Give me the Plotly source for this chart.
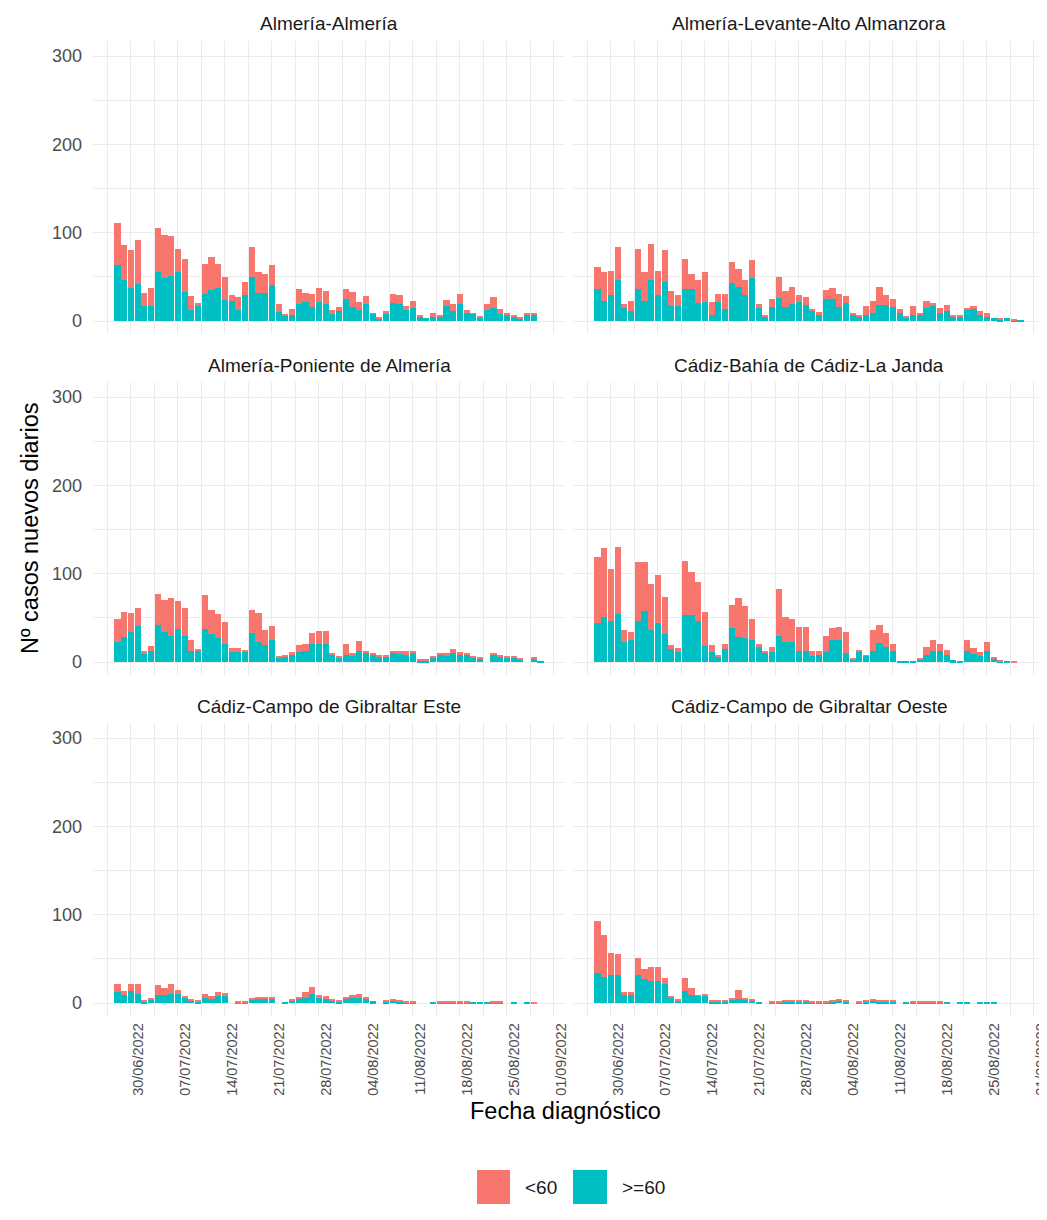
import pandas as pd
import plotly.graph_objects as go

# ---------------- data ----------------
dates = pd.date_range("2022-06-28", "2022-08-30", freq="D")

regions = [
    "Almería-Almería",
    "Almería-Levante-Alto Almanzora",
    "Almería-Poniente de Almería",
    "Cádiz-Bahía de Cádiz-La Janda",
    "Cádiz-Campo de Gibraltar Este",
    "Cádiz-Campo de Gibraltar Oeste",
]

almeria_ge60 = [63, 47, 38, 42, 17, 17, 56, 49,
                51, 55, 33, 12, 17, 31, 35, 37,
                24, 23, 13, 29, 50, 32, 32, 41,
                10, 6, 7, 19, 22, 16, 22, 19,
                8, 11, 25, 16, 13, 19, 8, 3,
                9, 21, 19, 12, 15, 5, 3, 5,
                5, 17, 11, 19, 9, 8, 4, 13,
                15, 8, 7, 5, 3, 7, 7, 0]
almeria_lt60 = [48, 39, 42, 50, 15, 21, 49, 49,
                45, 27, 37, 16, 3, 34, 37, 28,
                26, 7, 14, 15, 34, 23, 21, 23,
                9, 2, 7, 17, 10, 15, 16, 15,
                4, 5, 11, 17, 9, 9, 1, 1,
                2, 10, 10, 5, 8, 2, 0, 4,
                2, 7, 8, 12, 3, 1, 1, 6,
                12, 6, 2, 2, 2, 2, 2, 0]

levante_ge60 = [36, 23, 30, 47, 15, 11, 36, 23,
                47, 30, 44, 17, 17, 36, 36, 20,
                22, 7, 22, 14, 43, 39, 29, 49,
                15, 5, 16, 26, 16, 19, 22, 18,
                11, 7, 25, 25, 16, 20, 7, 5,
                7, 9, 18, 18, 16, 9, 4, 7,
                7, 15, 17, 9, 11, 5, 5, 13,
                14, 7, 5, 3, 2, 3, 1, 1]
levante_lt60 = [25, 33, 27, 37, 4, 12, 46, 32,
                40, 27, 37, 17, 12, 34, 17, 27,
                33, 15, 9, 17, 24, 20, 17, 20,
                4, 2, 9, 24, 18, 20, 7, 9,
                3, 3, 10, 13, 15, 8, 2, 2,
                10, 14, 21, 12, 9, 5, 1, 10,
                2, 8, 4, 6, 7, 2, 2, 1,
                3, 4, 4, 0, 1, 0, 1, 0]

poniente_ge60 = [23, 28, 34, 41, 9, 13, 42, 34,
                 30, 37, 30, 13, 13, 38, 32, 27,
                 21, 11, 11, 11, 33, 23, 19, 25,
                 5, 6, 8, 11, 13, 21, 21, 21,
                 8, 5, 8, 7, 13, 10, 8, 6,
                 6, 10, 10, 8, 11, 2, 2, 5,
                 8, 7, 10, 8, 8, 5, 4, 0,
                 8, 6, 5, 5, 3, 0, 4, 1]
poniente_lt60 = [26, 29, 21, 20, 4, 5, 35, 36,
                 42, 32, 31, 12, 2, 38, 27, 27,
                 24, 5, 5, 3, 26, 32, 17, 16,
                 1, 2, 3, 8, 8, 12, 14, 14,
                 2, 1, 12, 3, 11, 3, 2, 1,
                 1, 3, 2, 4, 2, 1, 1, 1,
                 2, 3, 5, 3, 2, 1, 1, 0,
                 2, 2, 1, 2, 1, 0, 2, 0]

bahia_ge60 = [44, 51, 47, 54, 23, 25, 47, 58,
              36, 44, 32, 15, 11, 53, 53, 47,
              18, 11, 6, 15, 39, 28, 27, 25,
              17, 11, 11, 30, 23, 23, 13, 13,
              7, 8, 11, 25, 25, 10, 3, 11,
              7, 13, 22, 17, 13, 1, 1, 1,
              3, 8, 13, 13, 8, 2, 1, 13,
              9, 7, 13, 4, 1, 1, 0, 0]
bahia_lt60 = [75, 78, 58, 76, 13, 9, 66, 55,
              52, 55, 42, 4, 5, 61, 49, 44,
              39, 8, 2, 5, 26, 45, 37, 24,
              4, 2, 6, 53, 28, 26, 27, 27,
              5, 4, 19, 14, 15, 24, 2, 3,
              1, 23, 20, 16, 8, 0, 0, 0,
              2, 9, 12, 8, 6, 0, 0, 12,
              7, 4, 10, 2, 1, 0, 1, 0]

este_ge60 = [12, 9, 14, 10, 2, 4, 9, 9,
             10, 10, 6, 3, 2, 6, 5, 8,
             8, 0, 1, 1, 4, 5, 5, 5,
             0, 1, 3, 5, 6, 10, 6, 5,
             3, 2, 5, 6, 6, 5, 2, 0,
             2, 3, 2, 1, 1, 0, 0, 1,
             1, 1, 1, 1, 1, 1, 1, 1,
             1, 1, 0, 1, 0, 1, 0, 0]
este_lt60 = [10, 5, 8, 12, 1, 1, 11, 8,
             12, 5, 2, 1, 1, 4, 3, 4,
             3, 0, 1, 1, 1, 1, 1, 1,
             0, 0, 1, 1, 7, 8, 3, 3,
             1, 1, 1, 3, 4, 1, 0, 0,
             1, 1, 1, 1, 1, 0, 0, 0,
             1, 1, 1, 1, 1, 0, 0, 0,
             1, 1, 0, 0, 0, 0, 1, 0]

oeste_ge60 = [34, 30, 32, 32, 10, 10, 32, 27,
              25, 25, 22, 6, 3, 14, 9, 8,
              8, 2, 2, 2, 4, 5, 4, 3,
              1, 0, 1, 1, 2, 2, 2, 2,
              1, 1, 1, 2, 3, 2, 0, 1,
              2, 3, 2, 2, 2, 0, 1, 1,
              1, 1, 1, 1, 1, 0, 1, 1,
              0, 1, 1, 1, 0, 0, 0, 0]
oeste_lt60 = [59, 47, 25, 23, 2, 2, 19, 12,
              16, 16, 6, 2, 1, 14, 8, 1,
              2, 1, 1, 1, 1, 10, 1, 2,
              0, 0, 1, 1, 1, 1, 1, 1,
              1, 1, 1, 1, 1, 1, 0, 1,
              1, 1, 1, 1, 1, 0, 0, 1,
              1, 1, 1, 1, 0, 0, 0, 0,
              0, 0, 0, 0, 0, 0, 0, 0]

ge60_series = [almeria_ge60, levante_ge60, poniente_ge60, bahia_ge60, este_ge60, oeste_ge60]
lt60_series = [almeria_lt60, levante_lt60, poniente_lt60, bahia_lt60, este_lt60, oeste_lt60]

tick_dates = ["2022-06-30", "2022-07-07", "2022-07-14", "2022-07-21", "2022-07-28",
              "2022-08-04", "2022-08-11", "2022-08-18", "2022-08-25", "2022-09-01"]
tick_labels = ["30/06/2022", "07/07/2022", "14/07/2022", "21/07/2022", "28/07/2022",
               "04/08/2022", "11/08/2022", "18/08/2022", "25/08/2022", "01/09/2022"]
y_ticks = [0, 100, 200, 300]
legend_labels = ["<60", ">=60"]

# ---------------- style ----------------
W, H = 1047, 1220
COL_LT = "#F8766D"
COL_GE = "#00BFC4"
GRID = "#EBEBEB"
FONT = "Liberation Sans, Arial, sans-serif"
STRIP = 19
YTICK = 18
XTICK = 14.5
BIG = 23.5

col_x = [(85 / W, 557 / W), (565 / W, 1037 / W)]
row_top = [33, 374, 715]
panel_h = 293.4
x_range = ["2022-06-24 08:24", "2022-09-02 15:36"]
y_range = [-15.1, 317.1]
DAY_MS = 86400000

fig = go.Figure()
layout = dict(
    width=W, height=H,
    margin=dict(l=0, r=0, t=0, b=0),
    paper_bgcolor="white", plot_bgcolor="white",
    barmode="stack", bargap=0,
    font=dict(family=FONT, color="#4D4D4D"),
    showlegend=False,
)
annotations = []
shapes = []

for i, name in enumerate(regions):
    r, c = divmod(i, 2)
    k = i + 1
    xa = "x" if k == 1 else f"x{k}"
    ya = "y" if k == 1 else f"y{k}"
    top = row_top[r]
    y0 = 1 - (top + panel_h) / H
    y1 = 1 - top / H
    fig.add_trace(go.Bar(
        x=dates, y=ge60_series[i], name=">=60", marker=dict(color=COL_GE, line=dict(width=0)),
        width=0.9 * DAY_MS, xaxis=xa, yaxis=ya))
    fig.add_trace(go.Bar(
        x=dates, y=lt60_series[i], name="<60", marker=dict(color=COL_LT, line=dict(width=0)),
        width=0.9 * DAY_MS, xaxis=xa, yaxis=ya))
    bottom_row = (r == 2)
    left_col = (c == 0)
    layout["xaxis" if k == 1 else f"xaxis{k}"] = dict(
        domain=list(col_x[c]), anchor=ya, type="date", range=x_range,
        tickmode="array", tickvals=tick_dates, ticktext=tick_labels,
        showticklabels=bottom_row, tickangle=-90, ticks="",
        tickfont=dict(size=XTICK, color="#4D4D4D"),
        showgrid=True, gridcolor=GRID, gridwidth=1.1, zeroline=False, showline=False,
        minor=dict(tick0="2022-06-26 12:00", dtick=7 * DAY_MS, showgrid=True,
                   gridcolor=GRID, gridwidth=0.6, ticks=""),
        ticklabelshift=7, ticklabelstandoff=3, ticklabeloverflow="allow", automargin=False,
    )
    layout["yaxis" if k == 1 else f"yaxis{k}"] = dict(
        domain=[y0, y1], anchor=xa, range=y_range,
        tickmode="array", tickvals=y_ticks, showticklabels=left_col, ticks="",
        tickfont=dict(size=YTICK, color="#4D4D4D"),
        showgrid=True, gridcolor=GRID, gridwidth=1.1, zeroline=False, showline=False,
        minor=dict(tick0=50, dtick=100, showgrid=True, gridcolor=GRID, gridwidth=0.6, ticks=""),
        ticklabelstandoff=10, automargin=False,
    )
    annotations.append(dict(
        text=name, xref="paper", yref="paper",
        x=(col_x[c][0] + col_x[c][1]) / 2, y=1 - (top - 17) / H,
        xanchor="center", yanchor="middle", showarrow=False,
        font=dict(size=STRIP, color="#1A1A1A", family=FONT)))

annotations.append(dict(text="Nº casos nuevos diarios", xref="paper", yref="paper",
                        x=22 / W, y=1 - 520 / H, textangle=-90, showarrow=False,
                        xanchor="center", yanchor="middle",
                        font=dict(size=BIG, color="black", family=FONT)))
annotations.append(dict(text="Fecha diagnóstico", xref="paper", yref="paper",
                        x=557 / W, y=1 - 1103 / H, showarrow=False,
                        xanchor="center", yanchor="middle",
                        font=dict(size=BIG, color="black", family=FONT)))

# legend (keys drawn as boxes, labels as text)
key_x = [(469, 502), (565, 599)]
key_y = (1162, 1196)
key_cols = [COL_LT, COL_GE]
for (kx0, kx1), col, lab in zip(key_x, key_cols, legend_labels):
    shapes.append(dict(type="rect", xref="paper", yref="paper",
                       x0=kx0 / W, x1=kx1 / W, y0=1 - key_y[1] / H, y1=1 - key_y[0] / H,
                       fillcolor=col, line=dict(width=0)))
    annotations.append(dict(text=lab, xref="paper", yref="paper",
                            x=(kx1 + 13) / W, y=1 - (key_y[0] + key_y[1]) / 2 / H,
                            xanchor="left", yanchor="middle", showarrow=False,
                            font=dict(size=STRIP, color="#1A1A1A", family=FONT)))

layout["annotations"] = annotations
layout["shapes"] = shapes
fig.update_layout(**layout)
fig.write_html("out.html")
